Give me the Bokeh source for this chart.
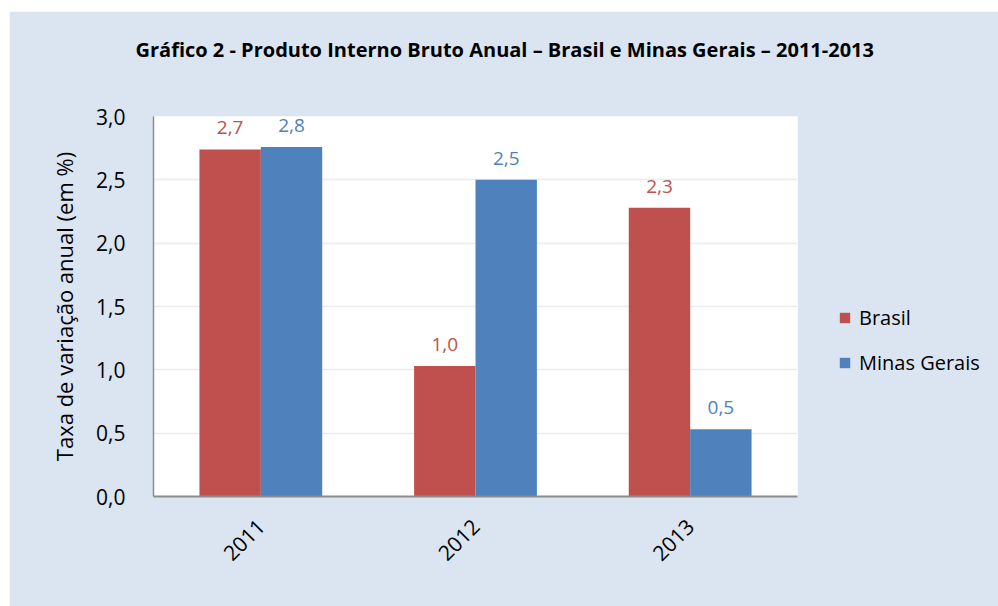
from bokeh.plotting import figure
from bokeh.models import (ColumnDataSource, LabelSet, Legend, LegendItem, Title,
                          CustomJSTickFormatter, FixedTicker)
from bokeh.transform import dodge
from bokeh.core.properties import value
from bokeh.embed import file_html
from bokeh.resources import INLINE
import math

years = ["2011", "2012", "2013"]
brasil = [2.74, 1.03, 2.28]
minas = [2.76, 2.50, 0.53]
series_names = ["Brasil", "Minas Gerais"]
colors = ["#c0504d", "#4f81bd"]
y_ticks = [0.0, 0.5, 1.0, 1.5, 2.0, 2.5, 3.0]
title_text = "Gráfico 2 - Produto Interno Bruto Anual – Brasil e Minas Gerais – 2011-2013"
y_label = "Taxa de variação anual (em %)"

FONT = "Open Sans"
BG = "#dbe5f1"

def fmt(v):
    return f"{v:.1f}".replace(".", ",")

src = ColumnDataSource(dict(
    year=years, brasil=brasil, minas=minas,
    brasil_lbl=[fmt(v) for v in brasil],
    minas_lbl=[fmt(v) for v in minas],
))

p = figure(x_range=years, y_range=(0, 3.0), frame_width=644, frame_height=380,
           output_backend="svg", toolbar_location=None,
           min_border_left=144, min_border_right=201,
           min_border_top=105, min_border_bottom=110,
           margin=(11, 0, 0, 9))
p.border_fill_color = BG
p.background_fill_color = "white"
p.outline_line_color = None
p.x_range.range_padding = 0.0

bw = 0.286
r1 = p.vbar(x=dodge("year", -bw / 2, range=p.x_range), top="brasil", width=bw,
            source=src, fill_color=colors[0], line_color=None)
r2 = p.vbar(x=dodge("year", bw / 2, range=p.x_range), top="minas", width=bw,
            source=src, fill_color=colors[1], line_color=None)

for col, lbl, off, c in [("brasil", "brasil_lbl", -bw / 2, colors[0]),
                         ("minas", "minas_lbl", bw / 2, colors[1])]:
    ls = LabelSet(x=dodge("year", off, range=p.x_range), y=col, text=lbl, source=src,
                  text_align="center", text_baseline="bottom", y_offset=15,
                  text_color=c, text_font=value(FONT), text_font_size="19px")
    p.add_layout(ls)

# axes
p.yaxis.ticker = FixedTicker(ticks=y_ticks)
p.yaxis.formatter = CustomJSTickFormatter(code="return tick.toFixed(1).replace('.', ',');")
p.yaxis.major_tick_line_color = None
p.yaxis.minor_tick_line_color = None
p.yaxis.axis_line_color = "#8c8c8c"
p.yaxis.axis_line_width = 1.5
p.yaxis.major_label_text_font = FONT
p.yaxis.major_label_text_font_size = "21px"
p.yaxis.major_label_text_color = "black"
p.yaxis.major_label_standoff = 22
p.yaxis.axis_label = y_label
p.yaxis.axis_label_text_font = FONT
p.yaxis.axis_label_text_font_size = "22px"
p.yaxis.axis_label_text_font_style = "normal"
p.yaxis.axis_label_text_color = "black"
p.yaxis.axis_label_standoff = 14

p.xaxis.major_tick_line_color = None
p.xaxis.minor_tick_line_color = None
p.xaxis.axis_line_color = "#8c8c8c"
p.xaxis.axis_line_width = 2
p.xaxis.major_label_orientation = math.pi / 4
p.xaxis.major_label_text_font = FONT
p.xaxis.major_label_text_font_size = "21px"
p.xaxis.major_label_text_color = "black"
p.xaxis.major_label_standoff = 20

p.xgrid.grid_line_color = None
p.ygrid.ticker = FixedTicker(ticks=y_ticks)
p.ygrid.grid_line_color = "#ececec"
p.ygrid.grid_line_width = 1.5

# title: spacer first (closest to frame), then the real title above it
spacer = Title(text=" ", text_font_size="33px", text_color=BG)
p.add_layout(spacer, "above")
main_title = Title(text=title_text, align="left", offset=-18, text_font=FONT,
                   text_font_size="20px", text_font_style="bold", text_color="black")
p.add_layout(main_title, "above")

legend = Legend(items=[LegendItem(label=series_names[0], renderers=[r1]),
                       LegendItem(label=series_names[1], renderers=[r2])],
                location=(41, 120), orientation="vertical")
legend.background_fill_alpha = 0
legend.border_line_color = None
legend.padding = 0
legend.margin = 0
legend.glyph_width = 13
legend.glyph_height = 13
legend.label_height = 13
legend.spacing = 18
legend.label_standoff = 8
legend.label_text_font = FONT
legend.label_text_font_size = "20px"
legend.label_text_color = "black"
p.add_layout(legend, "right")

open("out.html", "w").write(file_html(p, INLINE))
